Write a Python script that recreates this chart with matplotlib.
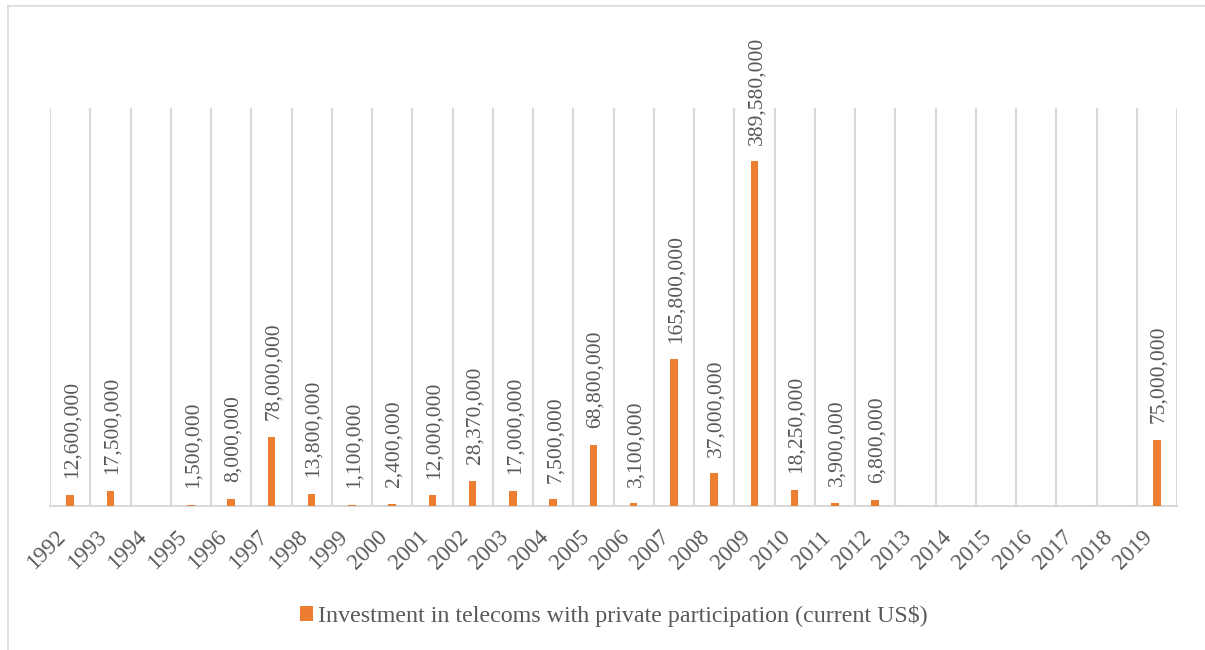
import numpy as np
import matplotlib
matplotlib.use("Agg")
from matplotlib import pyplot as plt
from matplotlib.lines import Line2D

# Investment in telecoms with private participation (current US$), by year
years = [str(y) for y in range(1992, 2020)]
invest = [12600000, 17500000, None, 1500000, 8000000, 78000000, 13800000,
          1100000, 2400000, 12000000, 28370000, 17000000, 7500000, 68800000,
          3100000, 165800000, 37000000, 389580000, 18250000, 3900000, 6800000,
          None, None, None, None, None, None, 75000000]
series_name = "Investment in telecoms with private participation (current US$)"

orange = "#ED7D31"
grid_c = "#D9D9D9"
txt_c = "#595959"

plt.rcParams['font.family'] = ['Liberation Serif', 'DejaVu Serif']

fig = plt.figure(figsize=(12.05, 6.5), dpi=100)
ax = fig.add_axes([50 / 1205, 1 - 506 / 650, 1127 / 1205, 398 / 650])

x = np.arange(len(years))
vals = np.array([np.nan if v is None else v for v in invest], dtype=float)
bars = ax.bar(x, np.nan_to_num(vals), width=0.19, color=orange, zorder=3, label=series_name)

for xi, v in zip(x, invest):
    if v is None:
        continue
    ax.annotate(f"{v:,}", (xi, v), xytext=(1.5, 12), textcoords="offset points",
                rotation=90, ha="center", va="bottom", fontsize=15.5, color=txt_c,
                annotation_clip=False)

ax.set_xlim(-0.5, len(years) - 0.5)
ax.set_ylim(0, 450000000)
ax.set_yticks([])

# category separators as vertical gridlines
ax.set_xticks(x)
ax.set_xticklabels(years, rotation=45, ha="right", va="top", rotation_mode="default",
                   fontsize=16.5, color=txt_c)
ax.set_xticks(np.arange(-0.5, len(years)), minor=True)
ax.tick_params(axis="x", which="both", length=0, pad=15)
ax.grid(which="minor", axis="x", color=grid_c, linewidth=1.5, zorder=0)
ax.grid(which="major", visible=False)

for s in ["top", "left", "right"]:
    ax.spines[s].set_visible(False)
ax.spines["bottom"].set_color(grid_c)
ax.spines["bottom"].set_linewidth(1.5)

leg = fig.legend(handles=[bars], labels=[series_name], loc="center",
                 bbox_to_anchor=(614 / 1205, 0.052), frameon=False, fontsize=17.3,
                 handlelength=0.55, handleheight=0.55, handletextpad=0.2)
for t in leg.get_texts():
    t.set_color(txt_c)

# outer chart border (left and top edges)
fig.add_artist(Line2D([8 / 1205, 8 / 1205], [0, 1 - 6 / 650], color=grid_c, linewidth=1.2))
fig.add_artist(Line2D([8 / 1205, 1], [1 - 6 / 650, 1 - 6 / 650], color=grid_c, linewidth=1.2))

fig.savefig("out.png", dpi=100, facecolor="white")
